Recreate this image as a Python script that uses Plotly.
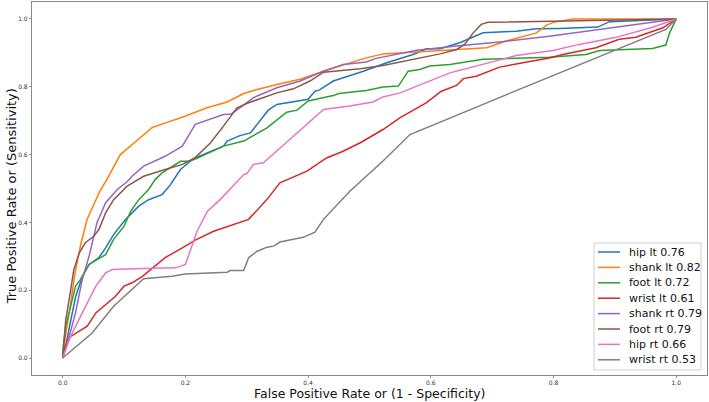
import plotly.graph_objects as go

names = ["hip lt 0.76", "shank lt 0.82", "foot lt 0.72", "wrist lt 0.61",
         "shank rt 0.79", "foot rt 0.79", "hip rt 0.66", "wrist rt 0.53"]
colors = ["#1f77b4", "#ff7f0e", "#2ca02c", "#d62728",
          "#9467bd", "#8c564b", "#e377c2", "#7f7f7f"]

hip_lt_x = [0, 0.005, 0.013, 0.021, 0.032, 0.043, 0.059, 0.07, 0.083, 0.102, 0.124, 0.14, 0.162, 0.175, 0.192, 0.205, 0.216, 0.262, 0.268, 0.289, 0.306, 0.319, 0.335, 0.349, 0.40, 0.411, 0.418, 0.441, 0.463, 0.49, 0.528, 0.571, 0.593, 0.615, 0.647, 0.685, 0.739, 0.772, 0.81, 0.872, 0.891, 0.94, 1.0]
hip_lt_y = [0, 0.035, 0.11, 0.18, 0.24, 0.276, 0.296, 0.325, 0.364, 0.408, 0.448, 0.467, 0.482, 0.51, 0.556, 0.576, 0.59, 0.625, 0.64, 0.656, 0.664, 0.694, 0.731, 0.748, 0.763, 0.787, 0.79, 0.817, 0.829, 0.846, 0.871, 0.895, 0.912, 0.912, 0.93, 0.959, 0.964, 0.971, 0.972, 0.976, 0.992, 0.996, 1.0]

shank_lt_x = [0, 0.005, 0.012, 0.02, 0.03, 0.04, 0.05, 0.06, 0.07, 0.08, 0.094, 0.12, 0.146, 0.17, 0.195, 0.235, 0.268, 0.295, 0.317, 0.349, 0.387, 0.425, 0.468, 0.49, 0.522, 0.577, 0.631, 0.691, 0.723, 0.772, 0.788, 0.80, 0.831, 1.0]
shank_lt_y = [0, 0.07, 0.15, 0.25, 0.34, 0.41, 0.45, 0.49, 0.52, 0.555, 0.60, 0.64, 0.68, 0.695, 0.71, 0.738, 0.755, 0.78, 0.792, 0.807, 0.822, 0.846, 0.871, 0.883, 0.897, 0.903, 0.908, 0.915, 0.935, 0.959, 0.981, 0.99, 1.0, 1.0]

foot_lt_x = [0, 0.001, 0.005, 0.013, 0.021, 0.029, 0.043, 0.056, 0.07, 0.083, 0.10, 0.111, 0.124, 0.14, 0.151, 0.162, 0.181, 0.192, 0.205, 0.216, 0.262, 0.295, 0.333, 0.365, 0.382, 0.40, 0.441, 0.45, 0.468, 0.495, 0.522, 0.547, 0.563, 0.582, 0.598, 0.631, 0.685, 0.739, 0.793, 0.853, 0.875, 0.961, 0.983, 0.989, 1.0]
foot_lt_y = [0, 0.035, 0.094, 0.153, 0.212, 0.232, 0.276, 0.29, 0.305, 0.35, 0.389, 0.433, 0.467, 0.497, 0.527, 0.546, 0.566, 0.58, 0.58, 0.587, 0.625, 0.64, 0.679, 0.725, 0.731, 0.758, 0.774, 0.78, 0.784, 0.789, 0.799, 0.802, 0.846, 0.851, 0.861, 0.866, 0.881, 0.883, 0.887, 0.895, 0.907, 0.913, 0.923, 0.959, 1.0]

wrist_lt_x = [0, 0.002, 0.01, 0.027, 0.04, 0.054, 0.07, 0.086, 0.10, 0.113, 0.13, 0.146, 0.167, 0.195, 0.216, 0.246, 0.303, 0.333, 0.354, 0.398, 0.43, 0.457, 0.485, 0.522, 0.55, 0.593, 0.617, 0.642, 0.653, 0.674, 0.712, 0.75, 0.793, 0.815, 0.869, 0.907, 0.934, 0.978, 1.0]
wrist_lt_y = [0, 0.025, 0.06, 0.079, 0.094, 0.133, 0.158, 0.182, 0.212, 0.222, 0.241, 0.266, 0.296, 0.325, 0.348, 0.374, 0.409, 0.468, 0.517, 0.551, 0.59, 0.61, 0.635, 0.674, 0.709, 0.753, 0.787, 0.804, 0.824, 0.831, 0.858, 0.871, 0.885, 0.895, 0.915, 0.94, 0.946, 0.974, 1.0]

shank_rt_x = [0, 0.01, 0.021, 0.032, 0.043, 0.056, 0.07, 0.089, 0.105, 0.113, 0.132, 0.167, 0.195, 0.205, 0.216, 0.262, 0.275, 0.311, 0.349, 0.387, 0.425, 0.457, 0.495, 0.509, 0.577, 0.642, 0.712, 0.793, 1.0]
shank_rt_y = [0, 0.06, 0.134, 0.232, 0.30, 0.40, 0.458, 0.497, 0.52, 0.536, 0.566, 0.595, 0.625, 0.654, 0.689, 0.718, 0.72, 0.768, 0.797, 0.817, 0.846, 0.866, 0.873, 0.883, 0.908, 0.92, 0.932, 0.949, 1.0]

foot_rt_x = [0, 0.005, 0.013, 0.018, 0.027, 0.037, 0.051, 0.059, 0.07, 0.083, 0.105, 0.124, 0.132, 0.167, 0.195, 0.216, 0.241, 0.262, 0.284, 0.303, 0.327, 0.349, 0.376, 0.403, 0.425, 0.447, 0.485, 0.522, 0.577, 0.615, 0.642, 0.655, 0.669, 0.682, 0.693, 0.79, 1.0]
foot_rt_y = [0, 0.113, 0.20, 0.26, 0.31, 0.34, 0.36, 0.379, 0.428, 0.467, 0.507, 0.527, 0.536, 0.556, 0.571, 0.591, 0.635, 0.684, 0.738, 0.753, 0.768, 0.782, 0.794, 0.817, 0.843, 0.846, 0.853, 0.863, 0.883, 0.897, 0.91, 0.925, 0.959, 0.984, 0.99, 0.993, 1.0]

hip_rt_x = [0, 0.013, 0.032, 0.054, 0.07, 0.081, 0.13, 0.184, 0.20, 0.211, 0.219, 0.236, 0.257, 0.295, 0.30, 0.311, 0.327, 0.376, 0.425, 0.468, 0.506, 0.522, 0.55, 0.631, 0.739, 0.799, 0.842, 0.90, 0.96, 1.0]
hip_rt_y = [0, 0.064, 0.133, 0.212, 0.251, 0.261, 0.264, 0.266, 0.276, 0.335, 0.374, 0.433, 0.468, 0.541, 0.544, 0.571, 0.576, 0.654, 0.733, 0.743, 0.755, 0.77, 0.782, 0.841, 0.892, 0.907, 0.925, 0.945, 0.975, 1.0]

wrist_rt_x = [0, 0.048, 0.083, 0.132, 0.178, 0.20, 0.268, 0.273, 0.295, 0.303, 0.317, 0.333, 0.344, 0.354, 0.392, 0.411, 0.425, 0.455, 0.468, 0.522, 0.566, 0.761, 0.983, 1.0]
wrist_rt_y = [0, 0.074, 0.153, 0.234, 0.241, 0.248, 0.253, 0.258, 0.258, 0.296, 0.315, 0.327, 0.33, 0.342, 0.356, 0.371, 0.409, 0.468, 0.492, 0.581, 0.659, 0.805, 0.969, 1.0]

series_x = [hip_lt_x, shank_lt_x, foot_lt_x, wrist_lt_x, shank_rt_x, foot_rt_x, hip_rt_x, wrist_rt_x]
series_y = [hip_lt_y, shank_lt_y, foot_lt_y, wrist_lt_y, shank_rt_y, foot_rt_y, hip_rt_y, wrist_rt_y]

tick_vals = [0.0, 0.2, 0.4, 0.6, 0.8, 1.0]
tick_text = ["0.0", "0.2", "0.4", "0.6", "0.8", "1.0"]

FONT = "DejaVu Sans, sans-serif"

W, H = 709, 402
ML, MR, MT, MB = 32, 2, 2, 27
PW, PH = W - ML - MR, H - MT - MB


def px_x(p):
    return (p - ML) / PW


def px_y(p):
    return (H - MB - p) / PH


fig = go.Figure()
for nm, c, xs, ys in zip(names, colors, series_x, series_y):
    fig.add_trace(go.Scatter(x=xs, y=ys, mode="lines", name=nm,
                             line=dict(color=c, width=1.5), showlegend=False))

axis_common = dict(
    tickvals=tick_vals, ticktext=tick_text,
    showgrid=False, zeroline=False,
    showline=True, linecolor="#8a8a8a", linewidth=1.2, mirror=True,
    ticks="outside", ticklen=2, tickcolor="#8a8a8a", tickwidth=1,
    tickfont=dict(family=FONT, size=6, color="#333"),
)

# legend drawn as box + sample lines + labels
shapes = [dict(type="rect", xref="paper", yref="paper",
               x0=px_x(594), x1=px_x(701), y0=px_y(370), y1=px_y(243),
               line=dict(color="#d0d0d0", width=1), fillcolor="rgba(255,255,255,0.85)",
               layer="above")]
annotations = []
for i, (nm, c) in enumerate(zip(names, colors)):
    yc = px_y(252 + i * 15.4)
    shapes.append(dict(type="line", xref="paper", yref="paper",
                       x0=px_x(598), x1=px_x(620), y0=yc, y1=yc,
                       line=dict(color=c, width=1.5), layer="above"))
    annotations.append(dict(text=nm, xref="paper", yref="paper",
                            x=px_x(627), y=yc, xanchor="left", yanchor="middle",
                            showarrow=False, font=dict(family=FONT, size=11, color="#111")))

annotations += [
    dict(text="False Positive Rate or (1 - Specificity)", xref="paper", yref="paper",
         x=0.5, y=0, xanchor="center", yanchor="middle", yshift=-18.5,
         showarrow=False, font=dict(family=FONT, size=12.5, color="#111")),
    dict(text="True Positive Rate or (Sensitivity)", xref="paper", yref="paper",
         x=0, y=0.479, xanchor="center", yanchor="middle", xshift=-21, textangle=-90,
         showarrow=False, font=dict(family=FONT, size=13, color="#111")),
]

fig.update_layout(
    width=W, height=H,
    margin=dict(l=ML, r=MR, t=MT, b=MB),
    paper_bgcolor="white", plot_bgcolor="white",
    font=dict(family=FONT, color="#111"),
    xaxis=dict(range=[-0.05, 1.05], **axis_common),
    yaxis=dict(range=[-0.05, 1.05], **axis_common),
    showlegend=False,
    shapes=shapes,
    annotations=annotations,
)

fig.write_html("out.html", config={"displayModeBar": False},
               post_script="document.body.style.margin='0px';")
